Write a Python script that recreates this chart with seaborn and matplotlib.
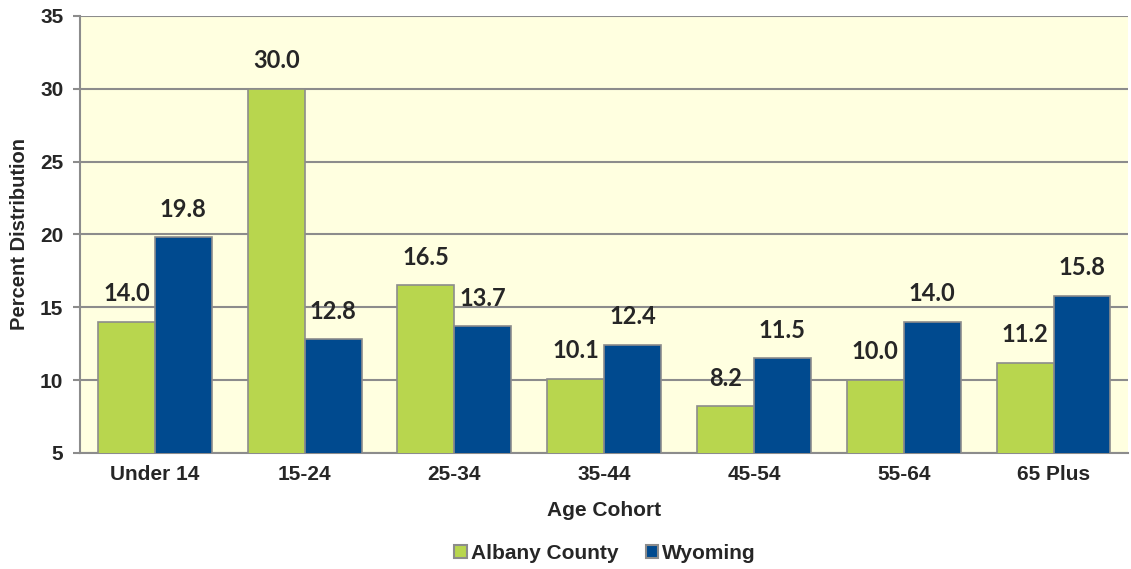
import matplotlib
matplotlib.use("Agg")
import matplotlib.pyplot as plt
import pandas as pd
import seaborn as sns
from matplotlib.patches import Patch

age_cohorts = ["Under 14", "15-24", "25-34", "35-44", "45-54", "55-64", "65 Plus"]
albany_county = [14.0, 30.0, 16.5, 10.1, 8.2, 10.0, 11.2]
wyoming = [19.8, 12.8, 13.7, 12.4, 11.5, 14.0, 15.8]
series_names = ["Albany County", "Wyoming"]
series_colors = ["#B8D64E", "#004A8F"]
y_ticks = [5, 10, 15, 20, 25, 30, 35]

df = pd.DataFrame({
    "cohort": age_cohorts * 2,
    "value": albany_county + wyoming,
    "series": [series_names[0]] * len(age_cohorts) + [series_names[1]] * len(age_cohorts),
})

sns.set_style("white")
plt.rcParams["font.family"] = ["Liberation Sans", "DejaVu Sans"]

fig = plt.figure(figsize=(11.31, 5.69), dpi=100)
ax = fig.add_axes([0.0707, 0.204, 0.927, 0.768])
ax.set_facecolor("#FFFFE0")

sns.barplot(data=df, x="cohort", y="value", hue="series", order=age_cohorts,
            hue_order=series_names, palette=series_colors, width=0.76,
            edgecolor="#8C8C8C", linewidth=1.2, saturation=1, legend=False,
            ax=ax, zorder=3)

ax.set_ylim(5, 35)
ax.set_yticks(y_ticks)
ax.grid(axis="y", color="#8C8C8C", linewidth=1.5, zorder=0)
ax.set_axisbelow(True)
for side in ["top", "right"]:
    ax.spines[side].set_visible(False)
for side in ["left", "bottom"]:
    ax.spines[side].set_color("#8C8C8C")
    ax.spines[side].set_linewidth(1.5)

ax.set_xticks([i - 0.5 for i in range(len(age_cohorts) + 1)], minor=True)
ax.tick_params(axis="x", which="major", length=0, pad=9, labelsize=15)
ax.tick_params(axis="x", which="minor", length=5, color="#8C8C8C", width=1.5)
ax.tick_params(axis="y", length=5, color="#8C8C8C", width=1.5, labelsize=15, pad=7,
               left=True)
for lbl in ax.get_xticklabels() + ax.get_yticklabels():
    lbl.set_fontweight("bold")
ax.set_xlim(-0.5, len(age_cohorts) - 0.5)

ax.set_xlabel("Age Cohort", fontsize=15, fontweight="bold", labelpad=12)
ax.set_ylabel("Percent Distribution", fontsize=14.5, fontweight="bold", labelpad=8)

for container in ax.containers:
    ax.bar_label(container, fmt="%.1f", padding=12, fontsize=17, fontweight="bold",
                 family=["Lato", "DejaVu Sans"])

handles = [Patch(facecolor=c, edgecolor="#8C8C8C", linewidth=1.5, label=n)
           for c, n in zip(series_colors, series_names)]
fig.legend(handles=handles, loc="lower center", bbox_to_anchor=(0.535, -0.022), ncol=2,
           frameon=False, handlelength=0.6, handleheight=0.6, handletextpad=0.2,
           columnspacing=1.3, prop={"weight": "bold", "size": 15})

fig.savefig("out.png", dpi=100)
